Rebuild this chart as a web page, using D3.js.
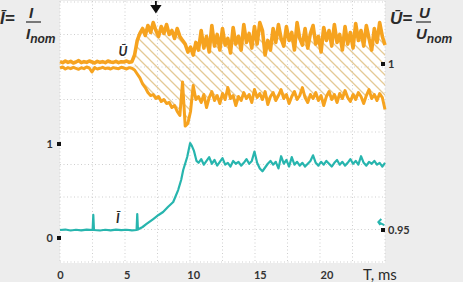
<!DOCTYPE html>
<html>
<head>
<meta charset="utf-8">
<script src="https://cdn.jsdelivr.net/npm/d3@7"></script>
<style>
  body { margin: 0; background: #ededed; }
  svg { display: block; font-family: Lato, "Liberation Sans", sans-serif; }
</style>
</head>
<body>
<svg id="chart" width="463" height="282"></svg>
<script>
// ---- data ----
var xTicks = [0, 5, 10, 15, 20];
var iTicks = [0, 1];
var uTicks = [1, 0.95];

// voltage traces, sampled every uStep ms from t = 0
var uStep = 0.2;
var hatchStart = 5.6;
var uUpper = [1.0007,1.0004,1.0009,1.0005,1.0008,1.0003,1.0006,1.0010,1.0004,1.0007,
  1.0005,1.0009,1.0006,1.0003,1.0008,1.0005,1.0007,1.0004,1.0009,1.0006,
  1.0005,1.0008,1.0004,1.0007,1.0006,1.0009,1.0005,1.0007,
  1.0027,1.0071,1.0092,1.0107,1.0086,1.0116,1.0095,1.0125,1.0101,1.0083,
  1.0113,1.0092,1.0119,1.0089,1.0101,1.0077,1.0107,1.0083,1.0071,1.0060,
  1.0036,1.0051,1.0027,1.0065,1.0042,1.0101,1.0048,1.0083,1.0036,1.0116,
  1.0054,1.0089,1.0042,1.0107,1.0057,1.0077,1.0033,1.0110,1.0060,1.0083,
  1.0042,1.0119,1.0065,1.0092,1.0048,1.0113,1.0060,1.0125,1.0101,1.0027,
  1.0071,1.0042,1.0107,1.0065,1.0119,1.0077,1.0054,1.0113,1.0071,1.0095,
  1.0042,1.0125,1.0077,1.0057,1.0107,1.0048,1.0092,1.0116,1.0060,1.0083,
  1.0036,1.0110,1.0071,1.0101,1.0054,1.0119,1.0065,1.0089,1.0042,1.0113,
  1.0060,1.0095,1.0048,1.0122,1.0071,1.0101,1.0054,1.0116,1.0077,1.0042,
  1.0107,1.0065,1.0125,1.0083,1.0057];
var uLower = [0.9988,0.9991,0.9985,0.9989,0.9986,0.9990,0.9987,0.9984,0.9989,0.9986,
  0.9991,0.9988,0.9976,0.9989,0.9985,0.9987,0.9990,0.9986,0.9988,0.9985,
  0.9989,0.9987,0.9986,0.9990,0.9988,0.9985,0.9989,0.9987,
  0.9982,0.9970,0.9958,0.9940,0.9929,0.9914,0.9905,0.9908,0.9896,0.9902,
  0.9887,0.9893,0.9881,0.9884,0.9869,0.9875,0.9857,0.9845,0.9946,0.9813,
  0.9821,0.9857,0.9935,0.9893,0.9902,0.9884,0.9908,0.9869,0.9899,0.9917,
  0.9890,0.9905,0.9881,0.9911,0.9893,0.9929,0.9896,0.9905,0.9875,0.9902,
  0.9890,0.9914,0.9896,0.9908,0.9884,0.9923,0.9899,0.9911,0.9893,0.9917,
  0.9878,0.9902,0.9914,0.9890,0.9905,0.9923,0.9896,0.9908,0.9881,0.9902,
  0.9917,0.9893,0.9905,0.9929,0.9899,0.9884,0.9908,0.9896,0.9914,0.9890,
  0.9905,0.9875,0.9902,0.9917,0.9893,0.9908,0.9884,0.9911,0.9896,0.9920,
  0.9899,0.9887,0.9908,0.9893,0.9914,0.9902,0.9881,0.9905,0.9923,0.9896,
  0.9908,0.9890,0.9911,0.9899,0.9863];

// current trace
var iTime = [0,0.4,0.8,1.2,1.6,2.0,2.45,2.5,2.55,3.0,3.4,3.8,4.2,4.6,5.0,5.4,5.75,5.8,5.85,
  6.2,6.5,7.0,7.4,7.74,8.1,8.5,8.87,9.1,9.25,9.55,9.77,9.9,10.05,10.25,
  10.4,10.6,10.8,11.0,11.2,11.4,11.6,11.8,12.0,12.2,12.4,12.6,12.8,13.0,13.2,13.4,13.6,13.8,
  14.0,14.2,14.4,14.6,14.8,15.0,15.2,15.4,15.6,15.8,16.0,16.2,16.4,16.6,16.8,17.0,17.2,17.4,
  17.6,17.8,18.0,18.2,18.4,18.6,18.8,19.0,19.2,19.4,19.6,19.8,20.0,20.2,20.4,20.6,20.8,21.0,
  21.2,21.4,21.6,21.8,22.0,22.2,22.4,22.6,22.8,23.0,23.2,23.4,23.6,23.8,24.0,24.2,24.4];
var iValue = [0.085,0.09,0.08,0.088,0.082,0.09,0.085,0.245,0.085,0.08,0.088,0.082,0.09,0.084,0.088,0.082,0.085,0.255,0.09,
  0.117,0.149,0.202,0.245,0.277,0.33,0.383,0.51,0.62,0.723,0.862,1.01,0.98,0.93,0.82,
  0.80,0.84,0.78,0.82,0.86,0.79,0.83,0.77,0.81,0.85,0.78,0.80,0.76,0.82,0.79,0.81,0.77,0.80,
  0.84,0.79,0.82,0.92,0.80,0.74,0.71,0.75,0.79,0.82,0.78,0.81,0.74,0.87,0.79,0.83,0.76,0.86,
  0.78,0.81,0.77,0.80,0.76,0.79,0.82,0.88,0.80,0.77,0.81,0.78,0.82,0.79,0.76,0.80,0.83,0.78,
  0.81,0.77,0.80,0.84,0.79,0.82,0.78,0.87,0.80,0.77,0.81,0.79,0.82,0.78,0.80,0.76,0.80];

// annotation positions (ms / per-unit)
var kickT = 7.2;
var uLabel = { t: 4.4, u: 1.0024 };
var iLabel = { t: 4.2, i: 0.17 };
var iMarker = { t: 23.9, i: 0.17 };

// ---- layout ----
var svg = d3.select("#chart"),
  width = +svg.attr("width"),
  height = +svg.attr("height"),
  plot = { left: 60, right: 385, top: 1, bottom: 263 };

var x = d3.scaleLinear().domain([0, 24.4]).range([plot.left, plot.right]);
var yI = d3.scaleLinear().domain([0, 1]).range([238, 144]);
var yU = d3.scaleLinear().domain([0.95, 1]).range([230, 64]);
var divX = d3.scaleLinear().domain([0, 10]).range([plot.left, plot.right]);
var divY = d3.scaleLinear().domain([0, 8]).range([plot.top + 1, plot.bottom - 1]);

var orange = "#f6a31f", teal = "#27b5ae", ink = "#2a2a2a";

svg.append("rect").attr("width", width).attr("height", height).attr("fill", "#ededed");
svg.append("rect")
  .attr("x", plot.left).attr("y", plot.top)
  .attr("width", plot.right - plot.left).attr("height", plot.bottom - plot.top)
  .attr("fill", "#fff");

// hatch pattern for the band between the voltage envelopes
var defs = svg.append("defs");
defs.append("pattern")
  .attr("id", "hatch")
  .attr("patternUnits", "userSpaceOnUse")
  .attr("width", 10).attr("height", 10)
  .append("path")
  .attr("d", "M0,0L10,10M-2,8L2,12M8,-2L12,2")
  .attr("stroke", "#e4c995")
  .attr("stroke-width", 1.3);

// dotted division grid
var grid = svg.append("g").attr("stroke", "#cfcfcf").attr("stroke-dasharray", "1,2.5");
grid.selectAll(".gx").data(divX.ticks(10)).enter().append("line")
  .attr("x1", divX).attr("x2", divX)
  .attr("y1", plot.top).attr("y2", plot.bottom);
grid.selectAll(".gy").data(divY.ticks(8)).enter().append("line")
  .attr("y1", divY).attr("y2", divY)
  .attr("x1", plot.left).attr("x2", plot.right);

// ---- traces ----
var uRows = uUpper.map(function(v, k) {
  return { t: +(k * uStep).toFixed(2), hi: v, lo: uLower[k] };
});
var iRows = iTime.map(function(t, k) { return { t: t, v: iValue[k] }; });

svg.append("path")
  .datum(uRows.filter(function(d) { return d.t >= hatchStart; }))
  .attr("fill", "url(#hatch)")
  .attr("d", d3.area()
    .x(function(d) { return x(d.t); })
    .y0(function(d) { return yU(d.hi); })
    .y1(function(d) { return yU(d.lo); }));

["hi", "lo"].forEach(function(key) {
  svg.append("path")
    .datum(uRows)
    .attr("fill", "none")
    .attr("stroke", orange)
    .attr("stroke-width", key == "hi" ? 3.6 : 3)
    .attr("stroke-linejoin", "round")
    .attr("d", d3.line()
      .x(function(d) { return x(d.t); })
      .y(function(d) { return yU(d[key]); }));
});

svg.append("path")
  .datum(iRows)
  .attr("fill", "none")
  .attr("stroke", teal)
  .attr("stroke-width", 2.2)
  .attr("stroke-linejoin", "round")
  .attr("d", d3.line()
    .x(function(d) { return x(d.t); })
    .y(function(d) { return yI(d.v); }));

// ---- annotations ----
var kx = x(kickT);
svg.append("path")
  .attr("d", "M" + kx + ",1V8M" + (kx - 4) + ",6H" + (kx + 4) + "L" + kx + ",12Z")
  .attr("stroke", "#111").attr("stroke-width", 1.8).attr("fill", "#111");

svg.append("text")
  .attr("x", x(uLabel.t)).attr("y", yU(uLabel.u))
  .attr("font-size", 13).attr("font-weight", "bold").attr("font-style", "italic")
  .attr("fill", ink).text("Ū");
svg.append("text")
  .attr("x", x(iLabel.t)).attr("y", yI(iLabel.i) + 1)
  .attr("font-size", 13).attr("font-weight", "bold").attr("font-style", "italic")
  .attr("fill", ink).text("Ī");

var mx = x(iMarker.t), my = yI(iMarker.i);
svg.append("path")
  .attr("d", "M" + (mx + 6) + "," + (my + 3) + "L" + mx + "," + my +
    "M" + (mx + 3) + "," + (my - 3) + "L" + mx + "," + my + "L" + (mx + 2) + "," + (my + 3))
  .attr("stroke", teal).attr("stroke-width", 2).attr("fill", "none");

// ---- axes ----
var xAxis = svg.append("g")
  .attr("transform", "translate(0," + (plot.bottom + 3) + ")")
  .call(d3.axisBottom(x).tickValues(xTicks).tickSize(0).tickPadding(5));
xAxis.select(".domain").remove();
xAxis.selectAll("text")
  .attr("font-family", "Lato, sans-serif").attr("font-size", 11)
  .attr("font-weight", "bold").attr("fill", "#333");

svg.append("text")
  .attr("x", 363).attr("y", 280)
  .attr("font-size", 15).attr("fill", ink).text("T, ms");

var leftAxis = svg.append("g")
  .attr("transform", "translate(" + (plot.left - 7) + ",0)")
  .call(d3.axisLeft(yI).tickValues(iTicks).tickSize(0).tickPadding(0)
    .tickFormat(d3.format("d")));
leftAxis.select(".domain").remove();
leftAxis.selectAll("text")
  .attr("font-family", "Lato, sans-serif").attr("font-size", 11)
  .attr("font-weight", "bold").attr("fill", "#333");
svg.selectAll(".lsq").data(iTicks).enter().append("rect")
  .attr("x", plot.left - 3).attr("y", function(d) { return yI(d) - 2; })
  .attr("width", 4).attr("height", 4).attr("fill", "#111");

var rightAxis = svg.append("g")
  .attr("transform", "translate(" + (plot.right + 3) + ",0)")
  .call(d3.axisRight(yU).tickValues(uTicks).tickSize(0).tickPadding(0)
    .tickFormat(function(d) { return d == 1 ? "1" : d3.format(".2f")(d); }));
rightAxis.select(".domain").remove();
rightAxis.selectAll("text")
  .attr("font-family", "Lato, sans-serif").attr("font-size", 11)
  .attr("font-weight", "bold").attr("fill", "#333");
svg.selectAll(".rsq").data(uTicks).enter().append("rect")
  .attr("x", plot.right - 4).attr("y", function(d) { return yU(d) - 2; })
  .attr("width", 4).attr("height", 4).attr("fill", "#111");

// ---- per-unit definitions ----
function fraction(g, left, main, num, den) {
  var t = g.append("text")
    .attr("font-family", "'Liberation Sans', sans-serif")
    .attr("font-weight", "bold").attr("font-style", "italic").attr("fill", ink);
  t.append("tspan").attr("x", left).attr("y", 24).attr("font-size", 17).text(main);
  t.append("tspan").attr("x", left + 29).attr("y", 18).attr("font-size", 15).text(num);
  t.append("tspan").attr("x", left + 26).attr("y", 39).attr("font-size", 15).text(num);
  t.append("tspan").attr("dy", 4).attr("font-size", 12).text(den);
  g.append("line")
    .attr("x1", left + 26).attr("x2", left + 41)
    .attr("y1", 22).attr("y2", 22)
    .attr("stroke", ink).attr("stroke-width", 1.2);
}
fraction(svg.append("g"), 0, "Ī=", "I", "nom");
fraction(svg.append("g"), 390, "Ū=", "U", "nom");
</script>
</body>
</html>
